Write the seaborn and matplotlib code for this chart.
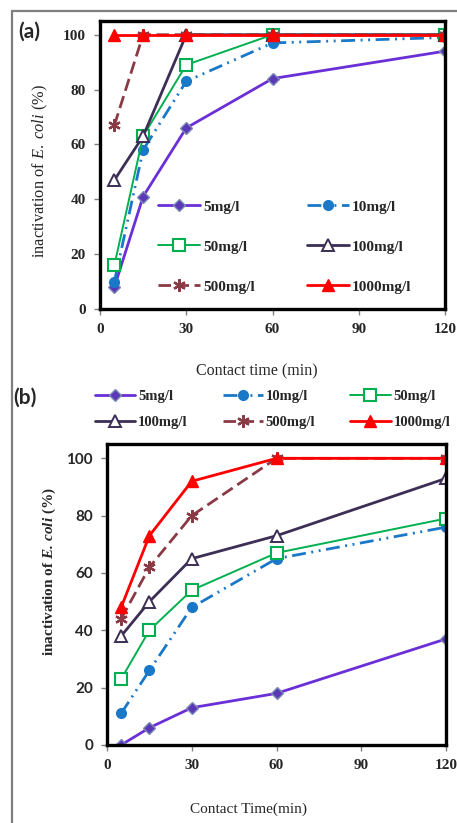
import numpy as np
import pandas as pd
import seaborn as sns
import matplotlib.pyplot as plt
from matplotlib.patches import Rectangle

# DATA
time_min = [5, 15, 30, 60, 120]
labels = ["5mg/l", "10mg/l", "50mg/l", "100mg/l", "500mg/l", "1000mg/l"]

# panel (a)
a_5 = [8, 41, 66, 84, 94]
a_10 = [10, 58, 83, 97, 99]
a_50 = [16, 63, 89, 100, 100]
a_100 = [47, 63, 100, 100, 100]
a_500 = [67, 100, 100, 100, 100]
a_1000 = [100, 100, 100, 100, 100]

# panel (b)
b_5 = [0, 6, 13, 18, 37]
b_10 = [11, 26, 48, 65, 76]
b_50 = [23, 40, 54, 67, 79]
b_100 = [38, 50, 65, 73, 93]
b_500 = [44, 62, 80, 100, 100]
b_1000 = [48, 73, 92, 100, 100]

x_ticks = [0, 30, 60, 90, 120]
y_ticks = [0, 20, 40, 60, 80, 100]

sns.set_theme(style="ticks")
plt.rcParams["font.family"] = ["Liberation Serif", "DejaVu Serif"]
plt.rcParams["mathtext.fontset"] = "custom"
plt.rcParams["mathtext.rm"] = "Liberation Serif"
plt.rcParams["mathtext.it"] = "Liberation Serif:italic"
plt.rcParams["mathtext.bf"] = "Liberation Serif:bold"
plt.rcParams["mathtext.bfit"] = "Liberation Serif:bold:italic"

# line styles per series
styles = [
    dict(color="#6a2fd6", marker="D", markersize=6, markerfacecolor="#5a38b8",
         markeredgecolor="#7d8cb5", markeredgewidth=1, linewidth=2, linestyle="-"),
    dict(color="#1a78c8", marker="o", markersize=7, markerfacecolor="#1a78c8",
         markeredgecolor="#1a78c8", markeredgewidth=1, linewidth=2,
         linestyle=(0, (5, 2, 0.7, 2, 0.7, 2))),
    dict(color="#00b050", marker="s", markersize=8, markerfacecolor="white",
         markeredgecolor="#00b050", markeredgewidth=1.5, linewidth=1.4, linestyle="-"),
    dict(color="#3d2e55", marker="^", markersize=8, markerfacecolor="white",
         markeredgecolor="#3d2e55", markeredgewidth=1.4, linewidth=2, linestyle="-"),
    dict(color="#8a3a44", marker=(6, 2, 0), markersize=9, markerfacecolor="#8a3a44",
         markeredgecolor="#8a3a44", markeredgewidth=1.6, linewidth=2,
         linestyle=(0, (4.5, 2))),
    dict(color="#ff0000", marker="^", markersize=8, markerfacecolor="#ff0000",
         markeredgecolor="#ff0000", markeredgewidth=1, linewidth=2, linestyle="-"),
]

fig = plt.figure(figsize=(4.57, 8.23), dpi=100)

# outer frame (left and top visible)
fig.patches.append(Rectangle((12 / 457, -0.1), 1.2, 1.1 - 11 / 823,
                             transform=fig.transFigure, fill=False,
                             edgecolor="#7f7f7f", linewidth=1.6))

ax_a = fig.add_axes([100 / 457, 1 - 309 / 823, 345 / 457, 288 / 823])
ax_b = fig.add_axes([107 / 457, 1 - 745 / 823, 339 / 457, 301 / 823])


def draw(ax, series):
    for lab, vals, st in zip(labels, series, styles):
        df = pd.DataFrame({"t": time_min, "v": vals})
        sns.lineplot(data=df, x="t", y="v", ax=ax, label=lab, **st)
    ax.set_xlim(0, 120)
    ax.set_ylim(0, 105)
    ax.set_xticks(x_ticks)
    ax.set_yticks(y_ticks)
    for s in ax.spines.values():
        s.set_visible(True)
        s.set_linewidth(2.4)
        s.set_color("black")
    ax.tick_params(direction="out", length=4, width=1, color="#808080", pad=6)


def reorder(ax, order):
    h, l = ax.get_legend_handles_labels()
    return [h[i] for i in order], [l[i] for i in order]


draw(ax_a, [a_5, a_10, a_50, a_100, a_500, a_1000])
draw(ax_b, [b_5, b_10, b_50, b_100, b_500, b_1000])

# panel (a) text
for t in ax_a.get_xticklabels() + ax_a.get_yticklabels():
    t.set_fontweight("bold")
    t.set_fontsize(11)
ax_a.set_xlabel("Contact time (min)", fontsize=11.5)
ax_a.xaxis.set_label_coords(0.455, -0.19)
ax_a.set_ylabel(r"inactivation of $\mathit{E.\ coli}$ (%)", fontsize=11.8)
ax_a.yaxis.set_label_coords(-0.145, 0.48)
h, l = reorder(ax_a, [0, 2, 4, 1, 3, 5])
ax_a.legend(h, l, loc="upper left", bbox_to_anchor=(0.168, 0.378), ncol=2,
            frameon=False, borderpad=0, borderaxespad=0,
            prop={"weight": "bold", "size": 11}, handlelength=2.75,
            handletextpad=0.2, labelspacing=1.72, columnspacing=3.4)

# panel (b) text
for t in ax_b.get_xticklabels():
    t.set_fontweight("bold")
    t.set_fontsize(11)
for t in ax_b.get_yticklabels():
    t.set_fontweight("bold")
    t.set_fontsize(11)
    t.set_family(["Lato", "DejaVu Sans"])
ax_b.set_xlabel("Contact Time(min)", fontsize=11)
ax_b.xaxis.set_label_coords(0.416, -0.19)
ax_b.set_ylabel(r"inactivation of $\mathbfit{E.}\,\mathbfit{coli}$ (%)", fontsize=11,
                fontweight="bold")
ax_b.yaxis.set_label_coords(-0.145, 0.575)
h, l = reorder(ax_b, [0, 3, 1, 4, 2, 5])
ax_b.legend(h, l, loc="upper left", bbox_to_anchor=(-0.035, 1.18), ncol=3,
            frameon=False, borderpad=0, borderaxespad=0,
            prop={"weight": "bold", "size": 10.5}, handlelength=2.75,
            handletextpad=0.2, labelspacing=0.9, columnspacing=2.4)

fig.text(18 / 457, 1 - 32 / 823, "(a)", fontsize=15, fontweight="bold",
         family=["Lato", "DejaVu Sans"], va="center", ha="left")
fig.text(13 / 457, 1 - 398 / 823, "(b)", fontsize=15, fontweight="bold",
         family=["Lato", "DejaVu Sans"], va="center", ha="left")

fig.savefig("out.png", dpi=100)
